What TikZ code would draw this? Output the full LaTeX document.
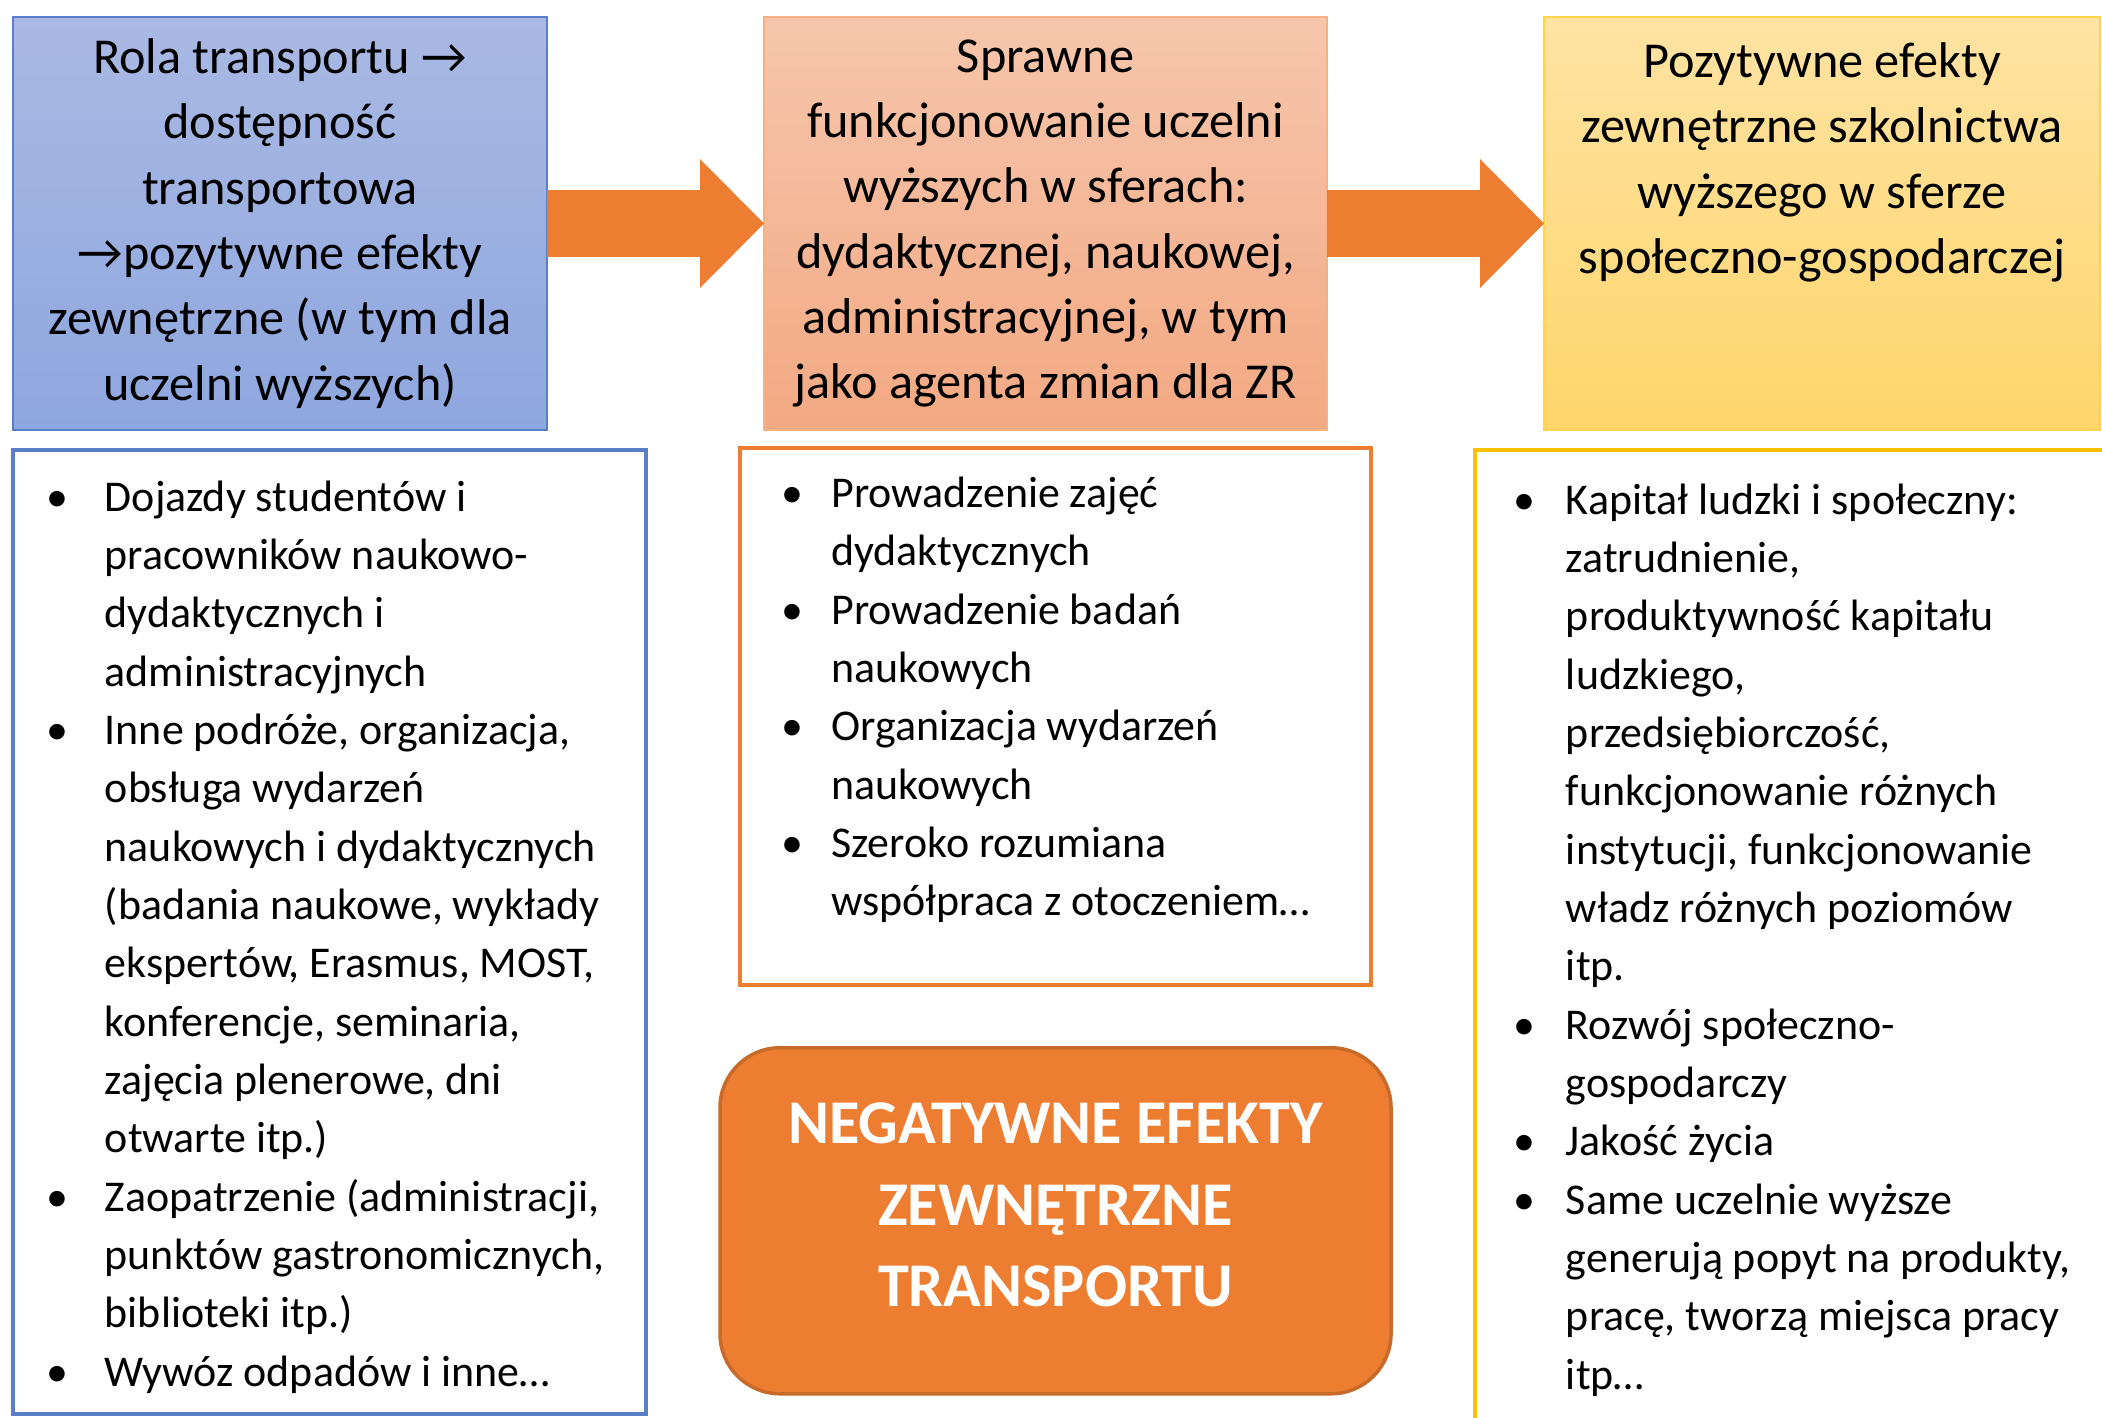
\documentclass[tikz,border=0pt]{standalone}
\usepackage{fontspec}
\setmainfont{Carlito}
\usetikzlibrary{positioning,arrows.meta}

\definecolor{niebieskiG}{HTML}{AAB9E3}
\definecolor{niebieskiD}{HTML}{8EA7DF}
\definecolor{niebieskiR}{HTML}{5B7FC7}
\definecolor{lososG}{HTML}{F6C6AC}
\definecolor{lososD}{HTML}{F3A983}
\definecolor{lososR}{HTML}{F4B183}
\definecolor{zoltyG}{HTML}{FFE3A3}
\definecolor{zoltyD}{HTML}{FFD56B}
\definecolor{zoltyR}{HTML}{FFC000}
\definecolor{pomarancz}{HTML}{ED7D31}
\definecolor{pomaranczR}{HTML}{C86A2A}

\begin{document}
\begin{tikzpicture}[
    gora/.style={draw, line width=0.8pt, minimum height=4.13cm, inner sep=0pt,
      outer sep=0pt, align=center, font=\fontsize{14.3}{18.6}\selectfont},
    lista/.style={draw, line width=1.2pt, inner sep=0pt, outer sep=0pt,
      font=\fontsize{12.5}{16.6}\selectfont},
    strzalka/.style={draw=pomarancz, line width=0.67cm,
      -{Triangle[length=0.64cm, width=1.29cm, line width=0pt]}}
  ]
  \useasboundingbox (0,0) rectangle (21.02,-14.17);

  % gorny rzad
  \node[gora, minimum width=5.34cm, draw=niebieskiR, top color=niebieskiG,
    bottom color=niebieskiD, anchor=north west] (rola) at (0.13,-0.17)
    {Rola transportu →\\ dostępność\\ transportowa\\ →pozytywne efekty\\
     zewnętrzne (w tym dla\\ uczelni wyższych)};
  \node[gora, minimum width=5.63cm, draw=lososR, top color=lososG,
    bottom color=lososD] (sprawne) [right=2.17cm of rola]
    {Sprawne\\ funkcjonowanie uczelni\\ wyższych w sferach:\\
     dydaktycznej, naukowej,\\ administracyjnej, w tym\\ jako agenta zmian dla ZR};
  \node[gora, minimum width=5.56cm, draw=zoltyR!70, top color=zoltyG,
    bottom color=zoltyD] (pozytywne) [right=2.17cm of sprawne]
    {Pozytywne efekty\\ zewnętrzne szkolnictwa\\ wyższego w sferze\\
     społeczno-gospodarczej\\ \mbox{}\\ \mbox{}};

  \draw[strzalka] (rola.east) -- (sprawne.west);
  \draw[strzalka] (sprawne.east) -- (pozytywne.west);

  % listy
  \node[lista, draw=niebieskiR, minimum width=6.33cm, minimum height=9.64cm,
    below=0.2cm of rola.south west, anchor=north west] (lista1) {%
    \begin{tabular}{@{}p{0.58cm}@{}l@{\hspace{0.08cm}}}
      \textbullet & Dojazdy studentów i\rule{0pt}{0.51cm}\\
       & pracowników naukowo-\\
       & dydaktycznych i\\
       & administracyjnych\\
      \textbullet & Inne podróże, organizacja,\\
       & obsługa wydarzeń\\
       & naukowych i dydaktycznych\\
       & (badania naukowe, wykłady\\
       & ekspertów, Erasmus, MOST,\\
       & konferencje, seminaria,\\
       & zajęcia plenerowe, dni\\
       & otwarte itp.)\\
      \textbullet & Zaopatrzenie (administracji,\\
       & punktów gastronomicznych,\\
       & biblioteki itp.)\\
      \textbullet & Wywóz odpadów i inne…
    \end{tabular}};
  \node[lista, draw=pomarancz, minimum width=6.31cm, minimum height=5.37cm,
    below=0.18cm of sprawne.south west, anchor=north west, xshift=-0.24cm] (lista2) {%
    \begin{tabular}{@{}p{0.5cm}@{}l@{\hspace{0.2cm}}}
      \textbullet & Prowadzenie zajęć\\
       & dydaktycznych\\
      \textbullet & Prowadzenie badań\\
       & naukowych\\
      \textbullet & Organizacja wydarzeń\\
       & naukowych\\
      \textbullet & Szeroko rozumiana\\
       & współpraca z otoczeniem…\\[0.33cm]
    \end{tabular}};
  \node[lista, draw=zoltyR, minimum width=6.40cm, minimum height=9.80cm,
    below=0.2cm of pozytywne.south west, anchor=north west, xshift=-0.69cm] (lista3) {%
    \begin{tabular}{@{}p{0.52cm}@{}l@{\hspace{0.06cm}}}
      \textbullet & Kapitał ludzki i społeczny:\\
       & zatrudnienie,\\
       & produktywność kapitału\\
       & ludzkiego,\\
       & przedsiębiorczość,\\
       & funkcjonowanie różnych\\
       & instytucji, funkcjonowanie\\
       & władz różnych poziomów\\
       & itp.\\
      \textbullet & Rozwój społeczno-\\
       & gospodarczy\\
      \textbullet & Jakość życia\\
      \textbullet & Same uczelnie wyższe\\
       & generują popyt na produkty,\\
       & pracę, tworzą miejsca pracy\\
       & itp…
    \end{tabular}};

  % efekty negatywne
  \node[draw=pomaranczR, line width=1pt, fill=pomarancz, rounded corners=0.6cm,
    minimum width=6.71cm, minimum height=3.46cm, align=center, text=white,
    font=\bfseries\fontsize{17.7}{23.2}\selectfont]
    (negatyw) [below=0.61cm of lista2]
    {NEGATYWNE EFEKTY\\ ZEWNĘTRZNE\\ TRANSPORTU\rule[-0.32cm]{0pt}{0pt}};
\end{tikzpicture}
\end{document}
